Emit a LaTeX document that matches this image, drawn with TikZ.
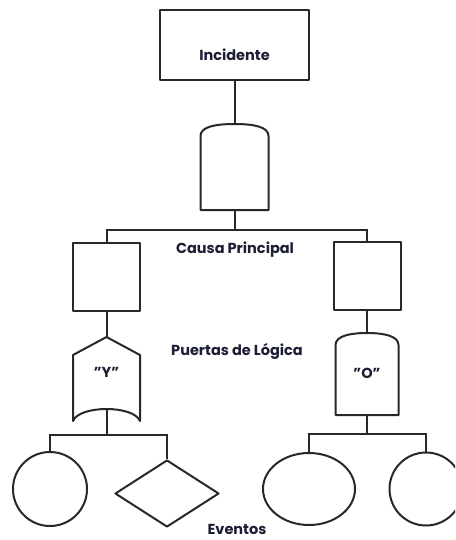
\documentclass[tikz,border=0pt]{standalone}
\usepackage{fontspec}
\setmainfont{Poppins}
\usetikzlibrary{shapes.geometric}
\definecolor{ink}{RGB}{40,40,40}
\definecolor{txt}{RGB}{28,30,52}
\tikzset{
  outline/.style={draw=ink, line width=2pt, line join=round},
  box/.style={outline, rectangle, inner sep=0pt},
  holder/.style={rectangle, inner sep=0pt, draw=none},
  caption/.style={font=\bfseries\fontsize{14.5}{17}\selectfont, text=txt, inner sep=1pt},
  wire/.style={draw=ink, line width=2pt},
}
\begin{document}
\begin{tikzpicture}[x=1pt, y=-1pt]
\useasboundingbox (0,0) rectangle (455,540);
\begin{scope}
\clip (0,0) rectangle (455,540);

% top event
\node[box, minimum width=149pt, minimum height=70pt,
      label={[caption, yshift=-10pt]center:Incidente}] (inc) at (234.5,45) {};

% top gate (AND)
\node[holder, minimum width=68pt, minimum height=86pt] (g0) at (234.5,167) {};
\draw[outline, shift={(g0.center)}]
  (-34,43) -- (-34,-31) .. controls (-34,-40) and (-20,-43) .. (0,-43)
  .. controls (20,-43) and (34,-40) .. (34,-31) -- (34,43) -- cycle;

% intermediate events
\node[box, minimum width=67pt, minimum height=68pt] (b1) at (106.5,277) {};
\node[box, minimum width=67pt, minimum height=68pt] (b2) at (367,276) {};

% "Y" gate
\node[holder, minimum width=67pt, minimum height=84pt,
      label={[caption, yshift=7pt]center:"Y"}] (gy) at (106.5,379) {};
\draw[outline, shift={(gy.center)}]
  (-33.5,-24) -- (0,-42) -- (33.5,-24) -- (33.5,42)
  .. controls (27,26) and (-27,26) .. (-33.5,42) -- cycle;
\coordinate (gyb) at (106.5,409);

% "O" gate
\node[holder, minimum width=63pt, minimum height=82pt,
      label={[caption, yshift=1pt]center:"O"}] (go) at (367,374) {};
\draw[outline, shift={(go.center)}]
  (-31.5,41) -- (-31.5,-29) .. controls (-31.5,-38) and (-17,-41) .. (0,-41)
  .. controls (17,-41) and (31.5,-38) .. (31.5,-29) -- (31.5,41) -- cycle;

% basic events
\node[outline, circle, minimum size=74pt, inner sep=0pt] (e1) at (50,489) {};
\node[outline, diamond, minimum width=104pt, minimum height=67pt, inner sep=0pt] (e2) at (167,493.5) {};
\node[outline, ellipse, minimum width=92pt, minimum height=72pt, inner sep=0pt] (e3) at (309,489) {};
\node[outline, circle, minimum size=73pt, inner sep=0pt] (e4) at (426,489) {};

% junctions
\coordinate (j0) at (234.5,230);
\coordinate (j1) at (106.5,435);
\coordinate (j2) at (367,434);

% connectors
\draw[wire] (inc.south) -- (g0.north);
\draw[wire] (g0.south) -- (j0);
\draw[wire] (b1.north) |- (j0) -| (b2.north);
\draw[wire] (b1.south) -- (gy.north);
\draw[wire] (b2.south) -- (go.north);
\draw[wire] (gyb) -- (j1);
\draw[wire] (e1.north) |- (j1) -| (e2.north);
\draw[wire] (go.south) -- (j2);
\draw[wire] (e3.north) |- (j2) -| (e4.north);
\end{scope}

% labels
\node[caption] (lcausa) at (235,250) {Causa Principal};
\node[caption] (lpuertas) at (237,351) {Puertas de Lógica};
\node[caption] (leventos) at (237,529) {Eventos};
\end{tikzpicture}
\end{document}
